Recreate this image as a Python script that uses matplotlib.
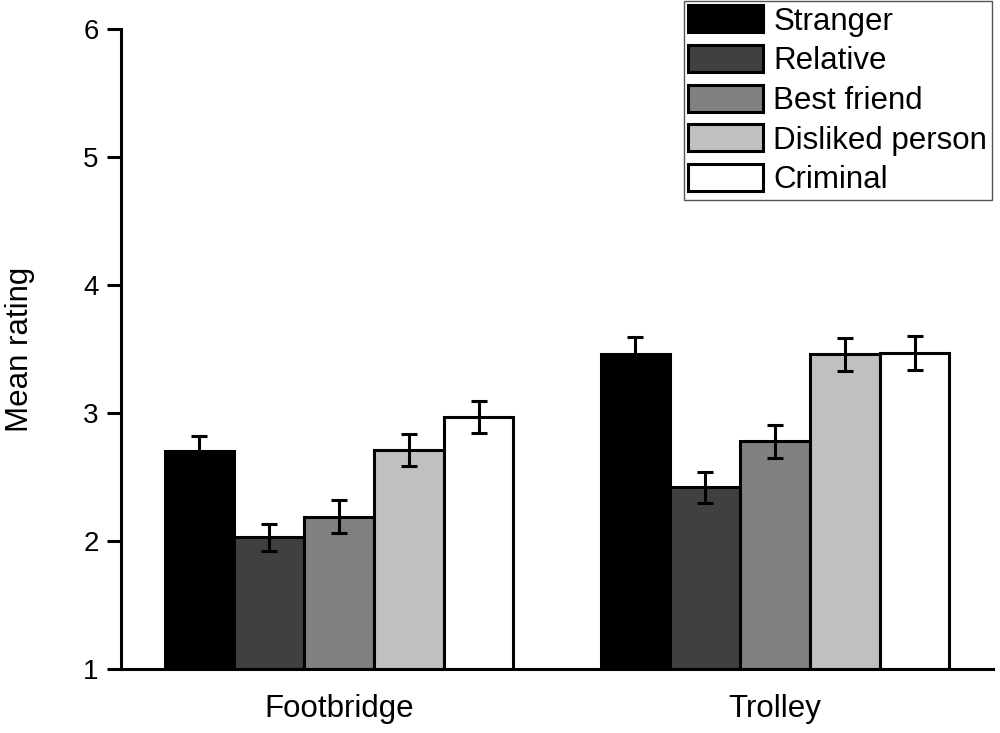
import numpy as np
import matplotlib
matplotlib.use('Agg')
import matplotlib.pyplot as plt

plt.rcParams['font.family'] = ['Liberation Sans', 'DejaVu Sans']

scenarios = ['Footbridge', 'Trolley']
targets = ['Stranger', 'Relative', 'Best friend', 'Disliked person', 'Criminal']
colors = ['#000000', '#404040', '#808080', '#c0c0c0', '#ffffff']

# mean rating per target: [Footbridge, Trolley]
means = {
    'Stranger':        [2.70, 3.46],
    'Relative':        [2.03, 2.42],
    'Best friend':     [2.19, 2.78],
    'Disliked person': [2.71, 3.46],
    'Criminal':        [2.97, 3.47],
}
errors = {
    'Stranger':        [0.12, 0.135],
    'Relative':        [0.105, 0.12],
    'Best friend':     [0.13, 0.13],
    'Disliked person': [0.125, 0.13],
    'Criminal':        [0.125, 0.13],
}

fig = plt.figure(figsize=(10, 7.33), dpi=100)
ax = fig.add_axes([0.121, 0.0873, 0.872, 0.873])

x = np.arange(len(scenarios))
width = 0.16
for i, (name, col) in enumerate(zip(targets, colors)):
    pos = x + (i - 2) * width
    ax.bar(pos, np.array(means[name]) - 1, width, bottom=1, color=col,
           edgecolor='black', linewidth=2.2, label=name, zorder=2)
    ax.errorbar(pos, means[name], yerr=errors[name], fmt='none',
                ecolor='black', elinewidth=2.2, capsize=5.5, capthick=2.2,
                zorder=3)

ax.set_xlim(-0.5, 1.5)
ax.set_ylim(1, 6)
ax.set_yticks([1, 2, 3, 4, 5, 6])
ax.set_xticks(x)
ax.set_xticklabels(scenarios, fontsize=22.5)
ax.tick_params(axis='x', length=0, pad=18)
ax.tick_params(axis='y', labelsize=20, length=10, width=2.2, pad=6)
ax.set_ylabel('Mean rating', fontsize=22.5)
ax.yaxis.set_label_coords(-0.099, 0.5)

for side in ['top', 'right']:
    ax.spines[side].set_visible(False)
for side in ['left', 'bottom']:
    ax.spines[side].set_linewidth(2.2)

fig.legend(loc='upper right', bbox_to_anchor=(0.992, 0.999),
           bbox_transform=fig.transFigure, borderaxespad=0,
           fontsize=22.5, fancybox=False, edgecolor='#555555',
           framealpha=1, handlelength=2.4, handleheight=0.95,
           handletextpad=0.32, labelspacing=0.27, borderpad=0.15)
fig.legends[0].get_frame().set_linewidth(1.0)

fig.savefig('out.png', dpi=100)
